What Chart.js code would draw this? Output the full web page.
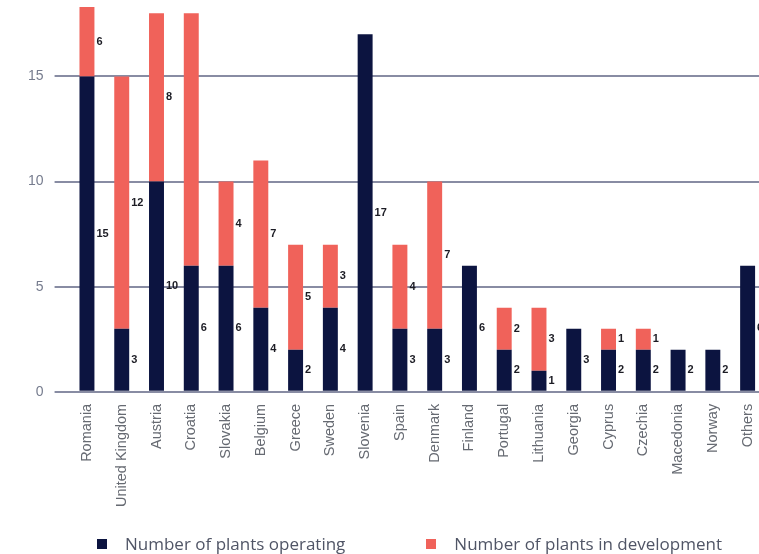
<!DOCTYPE html>
<html>
<head>
<meta charset="utf-8">
<script src="https://cdn.jsdelivr.net/npm/chart.js@4/dist/chart.umd.min.js"></script>
<style>
  html, body { margin: 0; padding: 0; overflow: hidden; background: #fff; }
  #wrap { position: relative; width: 770px; height: 554px; }
  #legend {
    position: absolute; left: 97px; top: 534px;
    display: flex; align-items: center;
    font: 17px "Open Sans", sans-serif; color: #505566;
    line-height: 20px; white-space: nowrap;
  }
  #legend .item { display: flex; align-items: center; }
  #legend .item + .item { margin-left: 81px; }
  #legend .box { width: 10px; height: 10px; margin-right: 18px; }
</style>
</head>
<body>
<div id="wrap">
  <canvas id="plantsChart"></canvas>
  <div id="legend"></div>
</div>
<script>
const countries = ['Romania', 'United Kingdom', 'Austria', 'Croatia', 'Slovakia', 'Belgium', 'Greece',
  'Sweden', 'Slovenia', 'Spain', 'Denmark', 'Finland', 'Portugal', 'Lithuania', 'Georgia', 'Cyprus',
  'Czechia', 'Macedonia', 'Norway', 'Others'];

const operating = [15, 3, 10, 6, 6, 4, 2, 4, 17, 3, 3, 6, 2, 1, 3, 2, 2, 2, 2, 6];
const development = [6, 12, 8, 12, 4, 7, 5, 3, null, 4, 7, null, 2, 3, null, 1, 1, null, null, null];

// the original shows no number on Croatia's development part
const noDevLabel = ['Croatia'];

const yTicks = [0, 5, 10, 15];

const colors = {
  operating: '#0c1440',
  development: '#f0625a'
};

// numbers printed to the right of every bar segment
const segmentLabels = {
  id: 'segmentLabels',
  afterDatasetsDraw(chart) {
    const { ctx, chartArea } = chart;
    ctx.save();
    ctx.font = 'bold 11px "Liberation Sans", Arial, sans-serif';
    ctx.fillStyle = '#1c1c24';
    ctx.textAlign = 'left';
    ctx.textBaseline = 'middle';
    chart.data.datasets.forEach((ds, di) => {
      chart.getDatasetMeta(di).data.forEach((bar, i) => {
        const v = ds.data[i];
        if (v == null) return;
        if (di === 1 && noDevLabel.includes(countries[i])) return;
        const top = Math.max(bar.y, chartArea.top);
        const y = (top + bar.base) / 2;
        ctx.fillText(String(v), bar.x + bar.width / 2 + 2, y);
      });
    });
    ctx.restore();
  }
};

const ctx = document.getElementById('plantsChart').getContext('2d');
const plantsChart = new Chart(ctx, {
  type: 'bar',
  data: {
    labels: countries,
    datasets: [{
      label: 'Number of plants operating',
      data: operating,
      backgroundColor: colors.operating
    }, {
      label: 'Number of plants in development',
      data: development,
      backgroundColor: colors.development
    }]
  },
  options: {
    responsive: true,
    maintainAspectRatio: false,
    animation: false,
    layout: { padding: { left: 17, right: 5, top: 7, bottom: 35 } },
    datasets: {
      bar: { categoryPercentage: 1, barPercentage: 0.43 }
    },
    plugins: {
      legend: { display: false },
      tooltip: { enabled: false }
    },
    scales: {
      x: {
        stacked: true,
        grid: { display: false, drawTicks: false },
        border: { display: false },
        afterFit: (scale) => {
          scale.paddingLeft = 0;
          scale.paddingRight = 0;
        },
        ticks: {
          minRotation: 90,
          maxRotation: 90,
          autoSkip: false,
          padding: 12,
          color: '#666a72',
          font: { family: '"Liberation Sans", Arial, sans-serif', size: 14.5 }
        }
      },
      y: {
        stacked: true,
        min: 0,
        max: 18.3,
        afterBuildTicks: (scale) => {
          scale.ticks = yTicks.map(v => ({ value: v }));
        },
        afterFit: (scale) => {
          scale.paddingTop = 0;
          scale.paddingBottom = 0;
        },
        grid: { color: '#888ca3', lineWidth: 2, drawTicks: true, tickLength: 15 },
        border: { display: false },
        ticks: {
          padding: 11,
          color: '#767c8e',
          font: { family: '"Liberation Sans", Arial, sans-serif', size: 14 }
        }
      }
    }
  },
  plugins: [segmentLabels]
});

// legend under the chart
const legend = document.getElementById('legend');
plantsChart.data.datasets.forEach(ds => {
  const item = document.createElement('div');
  item.className = 'item';
  const box = document.createElement('span');
  box.className = 'box';
  box.style.background = ds.backgroundColor;
  const text = document.createElement('span');
  text.textContent = ds.label;
  item.appendChild(box);
  item.appendChild(text);
  legend.appendChild(item);
});
</script>
</body>
</html>
